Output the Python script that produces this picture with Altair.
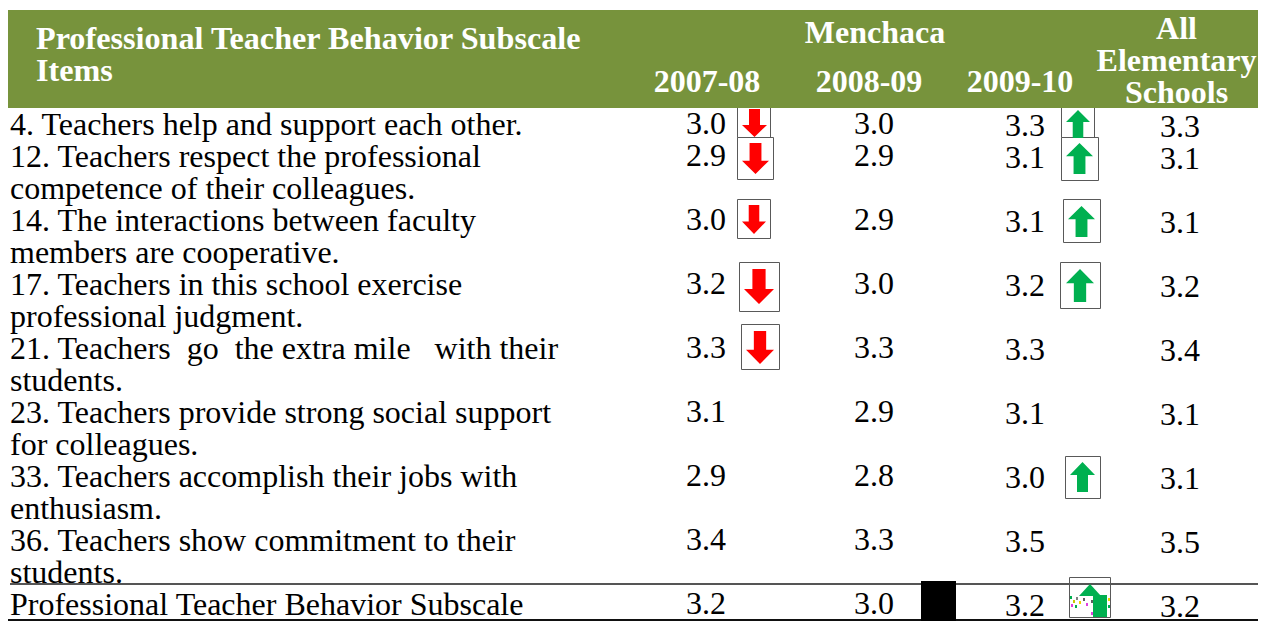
import altair as alt
import pandas as pd

# ---- data ----
item_labels = [
    "4. Teachers help and support each other.",
    "12. Teachers respect the professional\ncompetence of their colleagues.",
    "14. The interactions between faculty\nmembers are cooperative.",
    "17. Teachers in this school exercise\nprofessional judgment.",
    "21. Teachers\u00a0 go\u00a0 the extra mile\u00a0\u00a0 with their\nstudents.",
    "23. Teachers provide strong social support\nfor colleagues.",
    "33. Teachers accomplish their jobs with\nenthusiasm.",
    "36. Teachers show commitment to their\nstudents.",
    "Professional Teacher Behavior Subscale",
]
menchaca_2007 = [3.0, 2.9, 3.0, 3.2, 3.3, 3.1, 2.9, 3.4, 3.2]
menchaca_2008 = [3.0, 2.9, 2.9, 3.0, 3.3, 2.9, 2.8, 3.3, 3.0]
menchaca_2009 = [3.3, 3.1, 3.1, 3.2, 3.3, 3.1, 3.0, 3.5, 3.2]
all_schools = [3.3, 3.1, 3.1, 3.2, 3.4, 3.1, 3.1, 3.5, 3.2]
header_title = "Professional Teacher Behavior Subscale\nItems"
header_group = "Menchaca"
header_years = ["2007-08", "2008-09", "2009-10"]
header_all = "All\nElementary\nSchools"

# ---- layout (page pixels) ----
OX, OY = 8, 8
FONT = "Liberation Serif"
SIZE = 32
LH = 32
row_baselines = [135, 167, 231, 295, 359, 423, 487, 551, 615]
col_centers = [706, 874, 1025, 1180]
col_dy = [-1, -1, 1, 2]
GREEN, RED, UP = "#77933C", "#FF0000", "#00B050"
EDGE = "#595959"

boxes = [
    (737, 770, 100, 137), (1061, 1094, 100, 137),
    (737, 773, 137, 179), (1061, 1098, 137, 180),
    (737, 770, 199, 238), (1063, 1100, 199, 242),
    (739, 779, 262, 311), (1060, 1100, 262, 308),
    (741, 779, 324, 369), (1065, 1100, 456, 498),
    (1069, 1110, 577, 617),
]
arrows = [
    (742, 767, 109, 137, "d"), (1066, 1090, 110, 138, "u"),
    (742, 769, 143, 174, "d"), (1066, 1093, 143, 174, "u"),
    (742, 766, 205, 234, "d"), (1068, 1095, 206, 237, "u"),
    (744, 774, 269, 304, "d"), (1066, 1094, 269, 302, "u"),
    (746, 774, 331, 364, "d"), (1070, 1095, 462, 492, "u"),
]
specks = [
    (1070, 596, "#00B050"), (1073, 600, "#C8C800"), (1076, 597, "#808080"),
    (1071, 604, "#E040E0"), (1075, 605, "#00B050"), (1079, 601, "#E8D800"),
    (1083, 598, "#606060"), (1086, 603, "#E040E0"), (1108, 598, "#E8D800"),
    (1108, 605, "#00B050"), (1091, 612, "#E040E0"), (1091, 600, "#606060"),
]

base = alt.Chart(alt.Data(values=[{"a": 0}]))


def rect(x0, x1, y0, y1, **kw):
    return base.mark_rect(**kw).encode(
        x=alt.value(x0 - OX), x2=alt.value(x1 - OX),
        y=alt.value(y0 - OY), y2=alt.value(y1 - OY),
    )


def arrow_path(w, h, d):
    hw, hh = w / 2, h / 2
    s = 0.22 * w
    neck = 0.43 * h
    if d == "d":
        pts = [(-s, -hh), (s, -hh), (s, -hh + h - neck), (hw, -hh + h - neck),
               (0, hh), (-hw, -hh + h - neck), (-s, -hh + h - neck)]
    else:
        pts = [(0, -hh), (hw, -hh + neck), (s, -hh + neck), (s, hh), (-s, hh),
               (-s, -hh + neck), (-hw, -hh + neck)]
    return "M" + "L".join(f"{x:.2f},{y:.2f}" for x, y in pts) + "Z"


def arrow_mark(x0, x1, y0, y1, d):
    return base.mark_point(
        shape=arrow_path(x1 - x0, y1 - y0, d), filled=True, size=4, opacity=1,
        strokeWidth=0, color=RED if d == "d" else UP,
    ).encode(x=alt.value((x0 + x1) / 2 - OX), y=alt.value((y0 + y1) / 2 - OY))


def head_text(s, x, y, align="center", size=32):
    return base.mark_text(
        text=s.split("\n") if "\n" in s else s, font=FONT, fontSize=size, fontWeight="bold",
        color="white", align=align, baseline="alphabetic", lineHeight=LH,
    ).encode(x=alt.value(x - OX), y=alt.value(y - OY))


x_scale = alt.Scale(domain=[0, 1, 2, 3], range=[c - OX for c in col_centers])
y_scale = alt.Scale(domain=list(range(9)), range=[b - OY for b in row_baselines])

layers = []
for b in boxes:
    layers.append(rect(b[0] + .5, b[1] + .5, b[2] + .5, b[3] + .5, fill="white", stroke=EDGE, strokeWidth=1))
for a in arrows:
    layers.append(arrow_mark(*a))

# rules
layers.append(rect(10, 1262, 583, 585, fill="#555555"))
layers.append(rect(8, 1262, 619, 621, fill="#111111"))

# the damaged arrow on the summary row
layers.append(base.mark_point(shape="M0,-6L11,6L-11,6Z", filled=True, size=4, opacity=1,
                              strokeWidth=0, color=UP).encode(x=alt.value(1090 - OX), y=alt.value(590 - OY)))
layers.append(rect(1093, 1107, 595, 617, fill=UP))
for sx, sy, sc in specks:
    layers.append(rect(sx, sx + 2, sy, sy + 3, fill=sc))

# header band
layers.append(rect(8, 1262, 10, 108, fill=GREEN))
# artefact
layers.append(rect(921, 956, 581, 621, fill="black"))

# header text
layers.append(head_text(header_title, 36, 49, "left", size=32.2))
layers.append(head_text(header_group, 875, 43))
for yr, cx in zip(header_years, [707, 869, 1020]):
    layers.append(head_text(yr, cx, 92))
layers.append(head_text(header_all, 1176.5, 39))

# item labels
items = pd.DataFrame({"row": range(9), "label": [l.split("\n") for l in item_labels]})
layers.append(
    alt.Chart(items).mark_text(font=FONT, fontSize=SIZE, align="left", baseline="alphabetic",
                               lineHeight=LH, color="black")
    .encode(x=alt.value(10 - OX), y=alt.Y("row:Q", scale=y_scale, axis=None), text="label")
)

# numeric columns
for i, vals in enumerate([menchaca_2007, menchaca_2008, menchaca_2009, all_schools]):
    df = pd.DataFrame({"row": range(9), "col": [i] * 9, "v": vals})
    layers.append(
        alt.Chart(df).mark_text(font=FONT, fontSize=SIZE, align="center", baseline="alphabetic",
                                color="black", dy=col_dy[i])
        .encode(x=alt.X("col:Q", scale=x_scale, axis=None),
                y=alt.Y("row:Q", scale=y_scale, axis=None),
                text=alt.Text("v:Q", format=".1f"))
    )

chart = alt.layer(*layers).properties(
    width=1250, height=613, padding=0, autosize=alt.AutoSizeParams(type="none"),
).configure_view(stroke=None)

chart.save("out.html", embed_options={"renderer": "svg", "actions": False})
